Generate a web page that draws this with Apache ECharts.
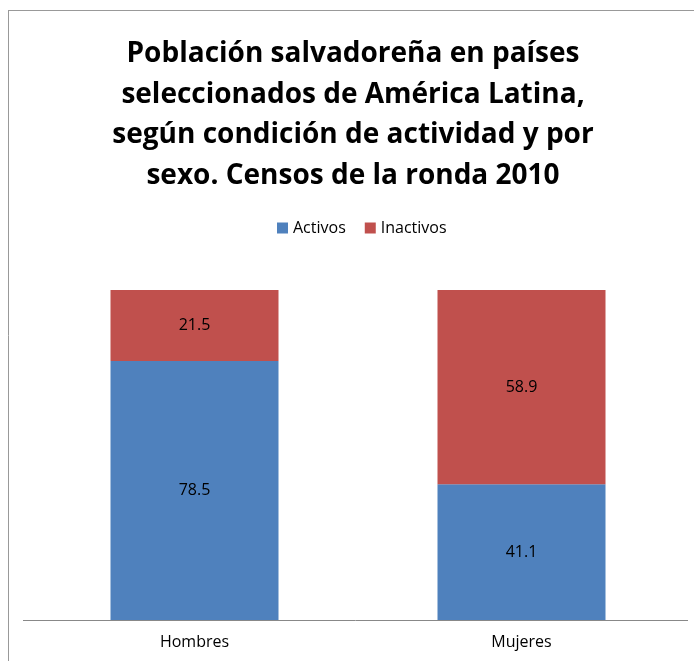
<!DOCTYPE html>
<html><head><meta charset="utf-8">
<script src="https://cdn.jsdelivr.net/npm/echarts@6/dist/echarts.min.js"></script>
<style>html,body{margin:0;padding:0;background:#fff}#c{width:694px;height:661px}</style>
</head><body><div id="c"></div>
<script>
const categories = ['Hombres', 'Mujeres'];
const activos = [78.5, 41.1];
const inactivos = [21.5, 58.9];
const seriesNames = ['Activos', 'Inactivos'];

const chart = echarts.init(document.getElementById('c'));
const font = '"Open Sans", "Noto Sans", sans-serif';
chart.setOption({
  animation: false,
  title: {
    text: 'Población salvadoreña en países\nseleccionados de América Latina,\nsegún condición de actividad y por\nsexo. Censos de la ronda 2010',
    left: 348, textAlign: 'center', top: 29,
    textStyle: { fontFamily: font, fontWeight: 'bold', fontSize: 28, lineHeight: 40.5, color: '#000' }
  },
  legend: {
    data: seriesNames, top: 215, left: 272, itemWidth: 11, itemHeight: 11, itemGap: 19,
    icon: 'rect',
    textStyle: { fontFamily: font, fontSize: 16, color: '#000' }
  },
  grid: { left: 31, right: 9, top: 290, bottom: 41 },
  xAxis: {
    type: 'category', data: categories,
    axisLine: { show: false }, axisTick: { show: false },
    axisLabel: { fontFamily: font, fontSize: 16, color: '#000', margin: 14 }
  },
  yAxis: { type: 'value', min: 0, max: 100, show: false, splitLine: { show: false } },
  series: [
    { name: seriesNames[0], type: 'bar', stack: 's', data: activos, barWidth: 168,
      itemStyle: { color: '#4f81bd' },
      label: { show: true, position: 'inside', fontFamily: font, fontSize: 16, color: '#000' } },
    { name: seriesNames[1], type: 'bar', stack: 's', data: inactivos, barWidth: 168,
      itemStyle: { color: '#c0504d' },
      label: { show: true, position: 'inside', fontFamily: font, fontSize: 16, color: '#000' } }
  ],
  graphic: [
    { type: 'line', shape: { x1: 8, y1: 10.5, x2: 694, y2: 10.5 }, style: { stroke: '#999', lineWidth: 1 } },
    { type: 'line', shape: { x1: 8.5, y1: 10, x2: 8.5, y2: 661 }, style: { stroke: '#999', lineWidth: 1 } },
    { type: 'line', shape: { x1: 23, y1: 620.5, x2: 688, y2: 620.5 }, style: { stroke: '#888', lineWidth: 1 }, z: 10 }
  ]
});
</script></body></html>
